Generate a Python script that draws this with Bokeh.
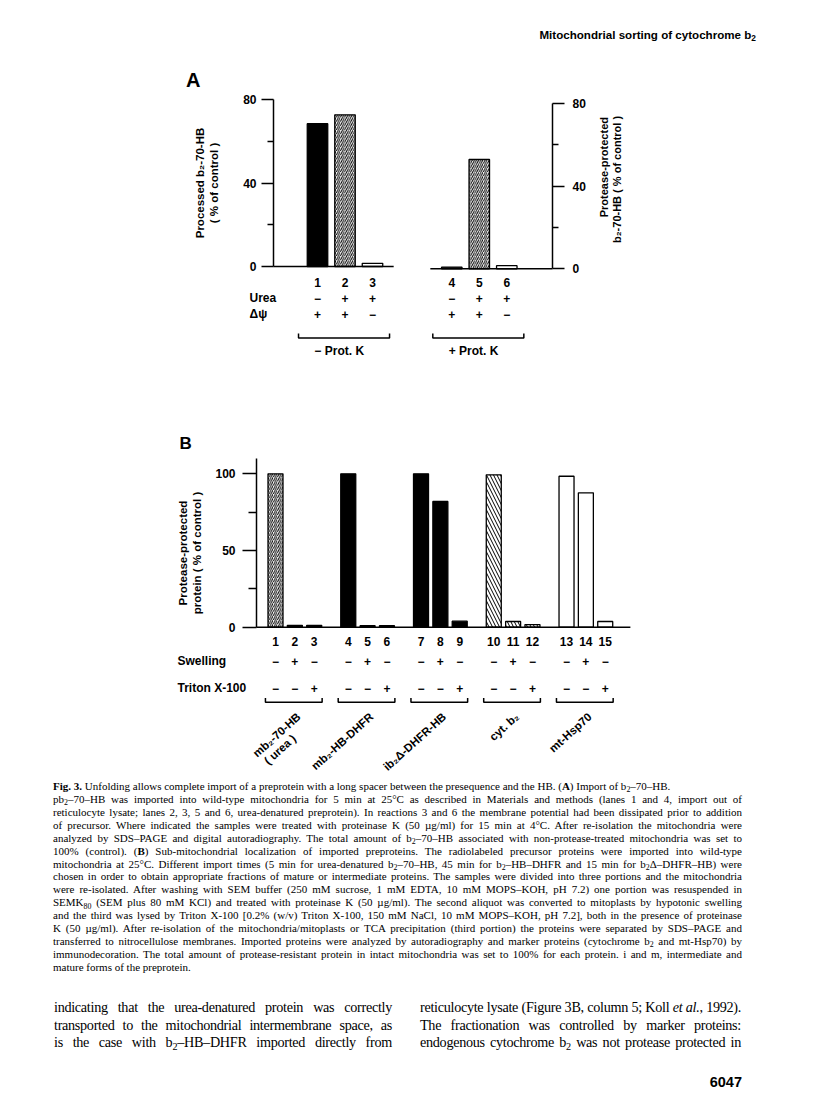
import math
from bokeh.plotting import figure
from bokeh.models import Range1d, LinearAxis, FixedTicker, ColumnDataSource, Div
from bokeh.layouts import row
from bokeh.core.properties import value
from bokeh.embed import file_html
from bokeh.resources import INLINE

SANS = "Liberation Sans"
SERIF = "Liberation Serif"

# ---------------- data: panel A ----------------
A_lanes = ["1", "2", "3", "4", "5", "6"]
A_values = [68.5, 72.8, 1.5, 0.8, 52.8, 1.5]
A_kind = ["solid", "fwd", "open", "solid", "fwd", "open"]
A_urea = ["−", "+", "+", "−", "+", "+"]
A_dpsi = ["+", "+", "−", "+", "+", "−"]
A_row_names = ["Urea", "Δψ"]
A_group_names = ["−  Prot. K", "+  Prot. K"]
A_left_title = "Processed b₂-70-HB\n( % of control )"
A_right_title = ["Protease-protected", "b₂-70-HB ( % of control )"]
A_ticks = [0, 40, 80]
A_minor = [20, 60]

# ---------------- data: panel B ----------------
B_lanes = ["1", "2", "3", "4", "5", "6", "7", "8", "9", "10", "11", "12", "13", "14", "15"]
B_values = [100, 1.2, 1.2, 100, 1.0, 1.0, 100, 82, 3.9, 99.3, 3.7, 1.7, 98.4, 87.6, 3.7]
B_kind = ["fwd", "solid", "solid", "solid", "solid", "solid", "solid", "solid", "solid",
          "back", "back", "back", "open", "open", "open"]
B_swelling = ["−", "+", "−", "−", "+", "−", "−", "+", "−", "−", "+", "−", "−", "+", "−"]
B_triton = ["−", "−", "+", "−", "−", "+", "−", "−", "+", "−", "−", "+", "−", "−", "+"]
B_row_names = ["Swelling", "Triton X-100"]
B_group_names = ["mb₂-70-HB", "mb₂-HB-DHFR", "ib₂Δ-DHFR-HB", "cyt. b₂", "mt-Hsp70"]
B_group_sub = ["( urea )", "", "", "", ""]
B_title = "Protease-protected\nprotein ( % of control )"
B_ticks = [0, 50, 100]
B_minor = [25, 75]

STY = {
    "solid": dict(fill="black", hatch=" ", scale=1.0),
    "fwd": dict(fill="white", hatch="/", scale=4.2),
    "back": dict(fill="white", hatch="\\", scale=7.0),
    "open": dict(fill="white", hatch=" ", scale=1.0),
}

W = 800


def style_axis(ax, tick_out, minor_out, standoff, label_standoff):
    ax.axis_line_width = 1.5
    ax.axis_line_color = "black"
    ax.major_tick_line_width = 1.5
    ax.minor_tick_line_width = 1.5
    ax.major_tick_in = 0
    ax.major_tick_out = tick_out
    ax.minor_tick_in = 0
    ax.minor_tick_out = minor_out
    ax.major_label_text_font = SANS
    ax.major_label_text_font_style = "bold"
    ax.major_label_text_font_size = "12px"
    ax.major_label_text_color = "black"
    ax.major_label_standoff = standoff
    ax.axis_label_text_font = SANS
    ax.axis_label_text_font_style = "bold"
    ax.axis_label_text_font_size = "11.5px"
    ax.axis_label_text_color = "black"
    ax.axis_label_standoff = label_standoff


def txt(p, xs, ys, texts, size="12px", align="center", angle=0.0, baseline="middle", y_range_name="default"):
    p.text(x=xs, y=ys, text=texts, text_font=value(SANS), text_font_style="bold",
           text_font_size=size, text_align=align, text_baseline=baseline, angle=angle,
           text_color="black", y_range_name=y_range_name)


def bar_source(xs, vals, kinds):
    return ColumnDataSource(dict(
        x=xs, top=vals,
        fill=[STY[k]["fill"] for k in kinds],
        hatch=[STY[k]["hatch"] for k in kinds],
        scale=[STY[k]["scale"] for k in kinds],
    ))


def fig(top, bottom, left, right, xr, yr, width=W):
    """figure whose frame spans page pixels [left,right] x [top,bottom]"""
    p = figure(width=width, height=bottom - top, title=None, output_backend="svg", toolbar_location=None,
               x_range=xr, y_range=yr, x_axis_location=None, y_axis_location=None,
               min_border_left=left, min_border_right=width - right, min_border_top=0, min_border_bottom=0,
               outline_line_color=None, background_fill_color="white", border_fill_color="white",
               margin=(0, 0, 0, 0))
    p.grid.visible = False
    return p


# =============== panel A (page-pixel layout helpers) ===============
Y0L, SL = 266.0, 2.084       # left axis: pixel of 0, pixels per unit
Y0R, SR = 268.3, 2.07        # right axis
AX1, ASX = 317.0, 27.5       # lane 1 pixel, pixels per lane
A_GAP = 1.883


def xa(px):
    return (px - AX1) / ASX + 1


def ya(px):
    return (Y0L - px) / SL


posA = [i + 1 + A_GAP * (i // 3) for i in range(len(A_values))]

A_T, A_M, A_B = 88, 277, 452
A_FL, A_FR = 273, 552
A_W = 590

pA = fig(A_T, A_M, A_FL, A_FR, Range1d(xa(A_FL), xa(A_FR)), Range1d(ya(A_M), ya(A_T)), width=A_W)
pA.extra_y_ranges = {"r": Range1d((Y0R - A_M) / SR, (Y0R - A_T) / SR)}

for g, rname in ((0, "default"), (1, "r")):
    idx = [i for i in range(len(A_values)) if i // 3 == g]
    pA.vbar(x="x", top="top", bottom=0, width=0.745,
            source=bar_source([posA[i] for i in idx], [A_values[i] for i in idx], [A_kind[i] for i in idx]),
            fill_color="fill", line_color="black", line_width=1.3,
            hatch_pattern="hatch", hatch_scale="scale", hatch_color="black", hatch_weight=1.0,
            y_range_name=rname)

pA.segment(x0=[xa(260)], y0=[0], x1=[posA[2] + 0.77], y1=[0], line_color="black", line_width=1.5)
pA.segment(x0=[posA[3] - 0.78], y0=[0], x1=[xa(564)], y1=[0], line_color="black", line_width=1.5,
           y_range_name="r")

axl = LinearAxis(bounds=(0, 80), ticker=FixedTicker(ticks=A_ticks, minor_ticks=A_minor),
                 axis_label=A_left_title)
style_axis(axl, 12, 6, 5, 20)
pA.add_layout(axl, "left")
axr = LinearAxis(y_range_name="r", bounds=(0, 80), ticker=FixedTicker(ticks=A_ticks, minor_ticks=A_minor))
style_axis(axr, 12, 6, 8, 14)
pA.add_layout(axr, "right")

# right-axis title (reads bottom-to-top, both lines flush at the top)
RT_W = 126
rt_html = (
    f'<div style="position:relative;width:{W - A_W}px;height:{A_M - A_T}px;">'
    f'<div style="position:absolute;left:{598 - A_W}px;top:{117 + RT_W - A_T}px;width:{RT_W}px;'
    f'transform:rotate(-90deg);transform-origin:0 0;text-align:right;white-space:nowrap;'
    f'font-family:\'{SANS}\';font-weight:bold;font-size:11px;line-height:13px;color:black;">'
    f'{A_right_title[0]}<br>{A_right_title[1]}</div></div>'
)
rt_div = Div(text=rt_html, width=W - A_W, height=A_M - A_T, margin=(0, 0, 0, 0))

# annotations under panel A (full-width frame, same lane mapping)
pA2 = fig(A_M, A_B, 0, W, Range1d(xa(0), xa(W)), Range1d(ya(A_B), ya(A_M)))
txt(pA2, posA, [ya(282)] * 6, A_lanes)
txt(pA2, posA, [ya(297.5)] * 6, A_urea)
txt(pA2, posA, [ya(313.5)] * 6, A_dpsi)
txt(pA2, [xa(249)] * 2, [ya(297), ya(313)], A_row_names, align="left")
bx, by, gx = [], [], []
for g in range(2):
    f, l = posA[3 * g], posA[3 * g + 2]
    x0, x1 = f - 0.69, l + 0.62
    bx.append([x0, x0, x1, x1])
    by.append([ya(333), ya(337.5), ya(337.5), ya(333)])
    gx.append((f + l) / 2 - 0.15)
pA2.multi_line(xs=bx, ys=by, line_color="black", line_width=1.5)
txt(pA2, gx, [ya(350.5)] * 2, A_group_names)
txt(pA2, [xa(179)], [ya(442.5)], ["B"], size="17px", align="left")

# =============== panel B ===============
Y0B, SB = 626.7, 1.534
BX1, BSX = 275.0, 19.35
B_PERIOD = 3.76


def xb(px):
    return (px - BX1) / BSX


def yb(px):
    return (Y0B - px) / SB


posB = [B_PERIOD * (i // 3) + (i % 3) for i in range(len(B_values))]

B_T, B_M, B_B = 452, 653, 778
B_FL, B_FR = 256, 645

pB = fig(B_T, B_M, B_FL, B_FR, Range1d(xb(B_FL), xb(B_FR)), Range1d(yb(B_M), yb(B_T)))
pB.vbar(x="x", top="top", bottom=0, width=0.775, source=bar_source(posB, B_values, B_kind),
        fill_color="fill", line_color="black", line_width=1.3,
        hatch_pattern="hatch", hatch_scale="scale", hatch_color="black", hatch_weight=1.0)
pB.segment(x0=[xb(242)], y0=[0], x1=[posB[-1] + 1.3], y1=[0], line_color="black", line_width=1.5)
axb = LinearAxis(bounds=(0, 110), ticker=FixedTicker(ticks=B_ticks, minor_ticks=B_minor),
                 axis_label=B_title)
style_axis(axb, 14, 8, 7, 9)
pB.add_layout(axb, "left")
txt(pB, posB, [yb(641)] * 15, B_lanes)

pB2 = fig(B_M, B_B, 0, W, Range1d(xb(0), xb(W)), Range1d(yb(B_B), yb(B_M)))
txt(pB2, posB, [yb(660.5)] * 15, B_swelling)
txt(pB2, posB, [yb(688)] * 15, B_triton)
txt(pB2, [xb(177)] * 2, [yb(660), yb(687.5)], B_row_names, align="left")
bxs, bys, cx = [], [], []
for g in range(5):
    f, l = posB[3 * g], posB[3 * g + 2]
    x0, x1 = f - 0.52, l + 0.41
    bxs.append([x0, x0, x1, x1])
    bys.append([yb(697.5), yb(701.7), yb(701.7), yb(697.5)])
    cx.append((x0 + x1) / 2)
pB2.multi_line(xs=bxs, ys=bys, line_color="black", line_width=1.5)
ang = math.radians(42)
txt(pB2, [c + 0.26 for c in cx], [yb(714.5)] * 5, B_group_names, size="11.5px", align="right", angle=ang)
# second line, centred under the first one
L1 = 74.0
sub_ax = [c + 0.26 - (L1 / 2) * math.cos(ang) / BSX + 13 * math.sin(ang) / BSX for c in cx]
sub_y = [yb(714.5 + (L1 / 2) * math.sin(ang) + 13 * math.cos(ang))] * 5
txt(pB2, sub_ax, sub_y, B_group_sub, size="11.5px", align="center", angle=ang)

# =============== text blocks ===============
SUB = '<span style="font-size:72%;position:relative;top:0.28em;line-height:0">'


def sub(s):
    return s.replace("<sub>", SUB).replace("</sub>", "</span>")


HEADER = "Mitochondrial sorting of cytochrome b<sub>2</sub>"

CAPTION = [
    "<b>Fig. 3.</b> Unfolding allows complete import of a preprotein with a long spacer between the presequence and the HB. (<b>A</b>) Import of b<sub>2</sub>–70–HB.",
    "pb<sub>2</sub>–70–HB was imported into wild-type mitochondria for 5 min at 25°C as described in Materials and methods (lanes 1 and 4, import out of",
    "reticulocyte lysate; lanes 2, 3, 5 and 6, urea-denatured preprotein). In reactions 3 and 6 the membrane potential had been dissipated prior to addition",
    "of precursor. Where indicated the samples were treated with proteinase K (50 µg/ml) for 15 min at 4°C. After re-isolation the mitochondria were",
    "analyzed by SDS–PAGE and digital autoradiography. The total amount of b<sub>2</sub>–70–HB associated with non-protease-treated mitochondria was set to",
    "100% (control). (<b>B</b>) Sub-mitochondrial localization of imported preproteins. The radiolabeled precursor proteins were imported into wild-type",
    "mitochondria at 25°C. Different import times (5 min for urea-denatured b<sub>2</sub>–70–HB, 45 min for b<sub>2</sub>–HB–DHFR and 15 min for b<sub>2</sub>Δ–DHFR–HB) were",
    "chosen in order to obtain appropriate fractions of mature or intermediate proteins. The samples were divided into three portions and the mitochondria",
    "were re-isolated. After washing with SEM buffer (250 mM sucrose, 1 mM EDTA, 10 mM MOPS–KOH, pH 7.2) one portion was resuspended in",
    "SEMK<sub>80</sub> (SEM plus 80 mM KCl) and treated with proteinase K (50 µg/ml). The second aliquot was converted to mitoplasts by hypotonic swelling",
    "and the third was lysed by Triton X-100 [0.2% (w/v) Triton X-100, 150 mM NaCl, 10 mM MOPS–KOH, pH 7.2], both in the presence of proteinase",
    "K (50 µg/ml). After re-isolation of the mitochondria/mitoplasts or TCA precipitation (third portion) the proteins were separated by SDS–PAGE and",
    "transferred to nitrocellulose membranes. Imported proteins were analyzed by autoradiography and marker proteins (cytochrome b<sub>2</sub> and mt-Hsp70) by",
    "immunodecoration. The total amount of protease-resistant protein in intact mitochondria was set to 100% for each protein. i and m, intermediate and",
    "mature forms of the preprotein.",
]
CAPTION_JUSTIFY = [False] + [True] * 13 + [False]

BODY_LEFT = [
    "indicating that the urea-denatured protein was correctly",
    "transported to the mitochondrial intermembrane space, as",
    "is the case with b<sub>2</sub>–HB–DHFR imported directly from",
]
BODY_RIGHT = [
    "reticulocyte lysate (Figure 3B, column 5; Koll <i>et al.</i>, 1992).",
    "The fractionation was controlled by marker proteins:",
    "endogenous cytochrome b<sub>2</sub> was not protease protected in",
]
PAGE_NO = "6047"


def lines_html(lines, justify, lh):
    out = []
    for s, j in zip(lines, justify):
        al = "text-align:justify;text-align-last:justify;" if j else "text-align:left;"
        out.append(f'<div style="height:{lh}px;line-height:{lh}px;white-space:nowrap;{al}">{sub(s)}</div>')
    return "".join(out)


head_html = (
    f'<div style="position:relative;width:{W}px;height:{A_T}px;">'
    f'<div style="position:absolute;right:44px;top:28px;font-family:\'{SANS}\';font-weight:bold;'
    f'font-size:11.6px;line-height:14px;white-space:nowrap;color:black;">{sub(HEADER)}</div>'
    f'<div style="position:absolute;left:186px;top:69px;font-family:\'{SANS}\';font-weight:bold;'
    f'font-size:20px;line-height:22px;color:black;">A</div></div>'
)
head = Div(text=head_html, width=W, height=A_T, margin=(0, 0, 0, 0))

TXT_TOP = B_B
TXT_H = 1104 - TXT_TOP
cap_html = (
    f'<div style="position:absolute;left:53px;top:{786.5 - 6.5 - TXT_TOP}px;width:689px;font-family:\'{SERIF}\';'
    f'font-size:11px;color:black;">{lines_html(CAPTION, CAPTION_JUSTIFY, 12.93)}</div>'
)
body_css = f"font-family:'{SERIF}';font-size:14.2px;letter-spacing:-0.3px;color:black;"
body_l = (
    f'<div style="position:absolute;left:54px;top:{1008 - 8.8 - TXT_TOP}px;width:338px;{body_css}">'
    f'{lines_html(BODY_LEFT, [True] * 3, 17.6)}</div>'
)
body_r = (
    f'<div style="position:absolute;left:420px;top:{1008 - 8.8 - TXT_TOP}px;width:321px;{body_css}">'
    f'{lines_html(BODY_RIGHT, [True] * 3, 17.6)}</div>'
)
pno = (
    f'<div style="position:absolute;right:{W - 742}px;top:{1082 - 8 - TXT_TOP}px;font-family:\'{SANS}\';font-weight:bold;'
    f'font-size:14.5px;line-height:16px;color:black;">{PAGE_NO}</div>'
)
text_div = Div(text=f'<div style="position:relative;width:{W}px;height:{TXT_H}px;">{cap_html}{body_l}{body_r}{pno}</div>',
               width=W, height=TXT_H, margin=(0, 0, 0, 0))

roots = [head, row(pA, rt_div, spacing=0), pA2, pB, pB2, text_div]

with open("out.html", "w") as fh:
    fh.write(file_html(roots, INLINE, title="Mitochondrial sorting of cytochrome b2"))
